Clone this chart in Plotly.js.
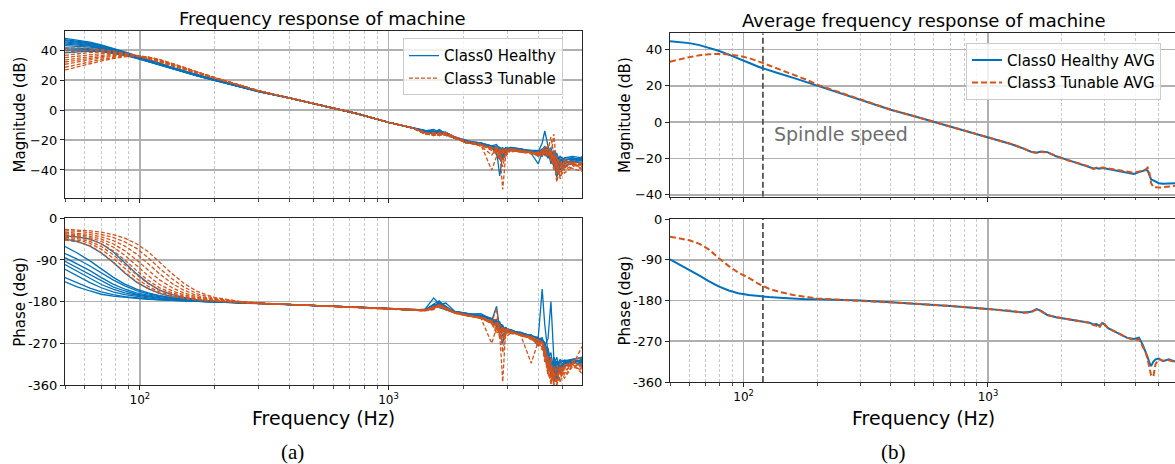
<!DOCTYPE html>
<html>
<head>
<meta charset="utf-8">
<script src="https://cdn.plot.ly/plotly-3.0.1.min.js"></script>
<style>
html,body{margin:0;padding:0;background:#fff;}
#chart{width:1175px;height:464px;}
</style>
</head>
<body>
<div id="chart"></div>
<script>
// ---------------- DATA ----------------
// Left panels (individual measurements), frequency grid in three pieces
const fLow  = [50, 56, 63, 70, 78, 87, 97, 108, 120, 135, 150, 170, 200, 250, 300];
const fMid  = [400, 550, 750, 1000, 1250];
const fHigh = [1400, 1520, 1600, 1700, 1850, 2050, 2350, 2600, 2720, 2800, 2880, 2960, 3100, 3400, 3750, 4000, 4150, 4250, 4380, 4500, 4620, 4750, 4900, 5100, 5500, 6000];

const magMidShared   = [8.0, 2.5, -2.5, -8.2, -12.0];
const phaseMidShared = [-186, -189, -192, -195, -198];

// Class0 Healthy: magnitude (dB)
const healthyMagLow = [
  [47.8, 46.8, 45.3, 43.5, 41.3, 38.8, 36.2, 33.6, 31.0, 28.4, 26.2, 23.6, 20.5, 16.4, 12.8],
  [47.0, 46.1, 44.7, 42.9, 40.8, 38.4, 35.9, 33.3, 30.8, 28.2, 26.0, 23.4, 20.3, 16.2, 12.7],
  [46.3, 45.5, 44.2, 42.5, 40.4, 38.1, 35.6, 33.1, 30.6, 28.0, 25.8, 23.2, 20.1, 16.1, 12.6],
  [45.5, 44.8, 43.6, 42.0, 40.0, 37.8, 35.4, 32.9, 30.4, 27.9, 25.7, 23.1, 20.0, 16.0, 12.5],
  [44.8, 44.2, 43.1, 41.6, 39.7, 37.5, 35.2, 32.8, 30.3, 27.8, 25.6, 23.0, 19.9, 15.9, 12.4],
  [44.0, 43.5, 42.6, 41.2, 39.4, 37.3, 35.1, 32.7, 30.2, 27.7, 25.5, 22.9, 19.9, 15.9, 12.4],
  [43.0, 42.7, 42.0, 40.8, 39.1, 37.1, 34.9, 32.6, 30.1, 27.6, 25.4, 22.9, 19.8, 15.8, 12.3],
  [41.5, 41.5, 41.0, 40.1, 38.7, 36.8, 34.7, 32.4, 30.0, 27.5, 25.3, 22.8, 19.8, 15.8, 12.3],
  [40.0, 40.3, 40.2, 39.5, 38.3, 36.6, 34.6, 32.3, 29.9, 27.4, 25.3, 22.8, 19.7, 15.7, 12.3],
  [38.2, 38.9, 39.3, 39.0, 38.0, 36.5, 34.5, 32.2, 29.8, 27.4, 25.2, 22.7, 19.7, 15.7, 12.2]
];
const healthyMagHigh = [
  [-14, -13, -15, -16, -18, -21, -23, -25, -27, -44, -30, -26, -25, -26, -27, -28, -22, -14, -24, -30, -28, -38, -34, -32, -31, -32],
  [-14, -15, -13, -16, -18, -21, -23, -24, -26, -28, -27, -25, -26, -27, -28, -29, -27, -26, -28, -25, -35, -42, -33, -34, -32, -33],
  [-15, -16, -14, -15, -19, -21, -22, -24, -23, -27, -31, -27, -26, -27, -28, -30, -29, -27, -30, -33, -27, -31, -40, -36, -33, -34],
  [-14, -14, -16, -15, -18, -22, -23, -25, -28, -26, -25, -28, -27, -26, -29, -36, -28, -25, -27, -36, -31, -29, -35, -38, -34, -35],
  [-15, -15, -14, -17, -18, -21, -23, -24, -30, -33, -26, -27, -26, -28, -28, -28, -26, -29, -32, -29, -38, -33, -31, -34, -35, -31],
  [-14, -16, -15, -15, -19, -21, -22, -25, -24, -25, -28, -26, -27, -27, -27, -27, -30, -28, -25, -30, -34, -45, -36, -33, -33, -33],
  [-15, -14, -16, -16, -18, -20, -23, -24, -26, -29, -33, -28, -25, -26, -28, -31, -27, -24, -29, -27, -30, -36, -33, -35, -34, -36],
  [-14, -15, -15, -16, -19, -21, -23, -26, -27, -25, -27, -29, -26, -27, -27, -29, -28, -30, -27, -31, -29, -33, -38, -32, -32, -34],
  [-15, -15, -14, -16, -18, -21, -22, -24, -26, -27, -26, -26, -27, -26, -28, -30, -31, -26, -28, -34, -36, -32, -34, -37, -36, -32],
  [-14, -16, -15, -15, -18, -22, -23, -25, -25, -30, -28, -27, -26, -27, -28, -28, -27, -28, -31, -28, -33, -40, -31, -33, -33, -33]
];
// Class0 Healthy: phase (deg)
const healthyPhaseLow = [
  [-38, -40, -45, -55, -72, -95, -120, -140, -155, -165, -171, -176, -179, -182, -184],
  [-45, -50, -60, -75, -95, -118, -138, -152, -162, -169, -173, -177, -180, -182, -184],
  [-61, -75, -92, -110, -127, -142, -153, -161, -167, -172, -175, -178, -180, -182, -184],
  [-76, -88, -103, -118, -133, -146, -156, -163, -168, -172, -175, -178, -180, -182, -184],
  [-85, -98, -113, -128, -142, -153, -161, -166, -170, -173, -176, -178, -180, -182, -184],
  [-93, -107, -122, -136, -148, -157, -164, -168, -172, -175, -177, -179, -180, -182, -184],
  [-100, -115, -130, -143, -153, -161, -166, -170, -173, -175, -177, -179, -181, -182, -184],
  [-110, -125, -139, -150, -159, -165, -169, -172, -175, -177, -178, -179, -181, -182, -184],
  [-128, -140, -151, -159, -165, -169, -172, -174, -176, -177, -178, -179, -181, -182, -184],
  [-137, -148, -157, -164, -168, -171, -173, -175, -176, -177, -178, -180, -181, -182, -184]
];
const healthyPhaseHigh = [
  [-197, -172, -185, -196, -204, -207, -206, -218, -228, -233, -236, -240, -243, -248, -253, -258, -153, -230, -290, -310, -330, -350, -320, -310, -305, -300],
  [-198, -185, -178, -194, -202, -206, -212, -221, -190, -240, -245, -237, -241, -249, -254, -262, -258, -275, -260, -180, -300, -340, -330, -315, -310, -308],
  [-199, -192, -180, -190, -203, -208, -213, -219, -226, -250, -270, -236, -244, -246, -255, -257, -265, -290, -320, -300, -345, -325, -310, -318, -312, -315],
  [-198, -194, -186, -183, -201, -205, -210, -217, -222, -228, -231, -248, -240, -250, -252, -268, -261, -285, -300, -335, -315, -300, -330, -308, -304, -302],
  [-197, -188, -193, -197, -204, -207, -212, -220, -234, -226, -238, -244, -246, -252, -258, -275, -263, -268, -310, -325, -355, -318, -305, -312, -309, -320],
  [-199, -196, -182, -195, -202, -206, -211, -218, -224, -237, -233, -241, -242, -249, -256, -260, -270, -300, -280, -315, -310, -335, -312, -306, -311, -306],
  [-198, -190, -187, -192, -203, -208, -209, -216, -226, -231, -255, -239, -243, -251, -254, -264, -262, -278, -295, -340, -300, -320, -336, -314, -307, -310],
  [-197, -193, -184, -196, -201, -205, -213, -219, -228, -235, -240, -236, -245, -247, -255, -259, -268, -282, -305, -290, -330, -312, -318, -320, -313, -304],
  [-199, -186, -189, -193, -204, -207, -210, -222, -220, -229, -236, -243, -241, -250, -257, -263, -266, -272, -285, -318, -322, -345, -308, -310, -308, -312],
  [-198, -191, -181, -197, -202, -206, -212, -218, -231, -224, -242, -238, -244, -248, -253, -270, -260, -288, -298, -305, -338, -308, -322, -312, -306, -309]
];

// Class3 Tunable: magnitude (dB)
const tunableMagLow = [
  [41.1, 41.4, 41.2, 40.5, 39.3, 37.8, 36.0, 34.0, 31.9, 29.5, 27.3, 24.5, 21.0, 16.6, 12.8],
  [38.5, 39.3, 39.8, 39.7, 39.1, 37.9, 36.3, 34.3, 32.1, 29.6, 27.4, 24.6, 21.0, 16.6, 12.8],
  [36.5, 37.5, 38.3, 38.7, 38.5, 37.7, 36.4, 34.6, 32.4, 29.9, 27.6, 24.7, 21.1, 16.6, 12.8],
  [35.0, 36.0, 37.0, 37.6, 37.8, 37.4, 36.4, 34.8, 32.7, 30.1, 27.8, 24.9, 21.2, 16.7, 12.8],
  [33.5, 34.6, 35.7, 36.5, 37.0, 37.0, 36.3, 35.0, 33.0, 30.4, 28.0, 25.0, 21.3, 16.7, 12.8],
  [32.0, 33.3, 34.6, 35.6, 36.4, 36.7, 36.3, 35.1, 33.2, 30.6, 28.2, 25.1, 21.3, 16.7, 12.8],
  [30.5, 32.0, 33.5, 34.8, 35.8, 36.4, 36.2, 35.2, 33.4, 30.8, 28.3, 25.2, 21.4, 16.8, 12.8],
  [28.5, 30.3, 32.1, 33.7, 35.0, 35.9, 36.0, 35.3, 33.6, 31.0, 28.5, 25.3, 21.4, 16.8, 12.8],
  [26.7, 28.8, 30.8, 32.7, 34.3, 35.5, 35.8, 35.3, 33.7, 31.1, 28.6, 25.4, 21.5, 16.8, 12.8]
];
const tunableMagHigh = [
  [-15, -17, -16, -15, -18, -21, -24, -30, -26, -28, -53, -30, -26, -27, -28, -29, -27, -25, -27, -18, -30, -42, -36, -33, -35, -40],
  [-16, -15, -17, -16, -19, -21, -23, -40, -31, -27, -29, -26, -27, -28, -28, -29, -28, -27, -30, -31, -16, -38, -44, -34, -36, -38],
  [-15, -16, -15, -17, -18, -22, -23, -26, -27, -33, -28, -27, -26, -27, -29, -30, -27, -29, -27, -33, -35, -30, -46, -38, -35, -37],
  [-16, -17, -16, -15, -19, -21, -24, -25, -25, -28, -34, -29, -27, -28, -28, -31, -29, -26, -24, -30, -40, -35, -33, -40, -37, -36],
  [-15, -16, -17, -16, -18, -22, -23, -27, -29, -26, -27, -31, -26, -27, -29, -28, -30, -28, -31, -28, -33, -48, -38, -35, -36, -39],
  [-16, -15, -16, -17, -19, -21, -23, -25, -27, -30, -26, -27, -28, -27, -28, -29, -28, -31, -28, -34, -31, -36, -41, -39, -34, -37],
  [-15, -17, -15, -16, -18, -21, -24, -26, -28, -29, -38, -28, -27, -28, -29, -30, -27, -27, -29, -27, -37, -34, -36, -42, -38, -35],
  [-16, -16, -17, -16, -19, -22, -23, -25, -26, -27, -28, -30, -27, -27, -28, -29, -31, -27, -26, -32, -29, -40, -35, -37, -39, -41],
  [-15, -16, -16, -15, -18, -21, -23, -26, -30, -31, -27, -28, -26, -28, -28, -30, -28, -29, -30, -29, -34, -37, -45, -36, -36, -38]
];
// Class3 Tunable: phase (deg)
const tunablePhaseLow = [
  [-24, -25, -27, -30, -35, -43, -55, -72, -95, -120, -140, -158, -171, -179, -183],
  [-27, -28, -31, -35, -41, -51, -65, -85, -108, -131, -148, -163, -173, -180, -183],
  [-30, -32, -35, -40, -48, -60, -77, -98, -120, -141, -155, -167, -175, -180, -183],
  [-33, -35, -39, -45, -55, -70, -90, -112, -133, -150, -161, -170, -176, -181, -184],
  [-36, -38, -42, -50, -62, -80, -102, -124, -143, -157, -165, -172, -177, -181, -184],
  [-38, -41, -46, -55, -70, -90, -113, -134, -150, -161, -168, -174, -178, -181, -184],
  [-41, -44, -50, -61, -78, -100, -122, -141, -155, -164, -170, -175, -178, -181, -184],
  [-44, -47, -54, -67, -86, -109, -130, -147, -159, -167, -172, -176, -179, -181, -184],
  [-47, -51, -59, -74, -94, -117, -137, -152, -162, -169, -173, -177, -179, -182, -184]
];
const tunablePhaseHigh = [
  [-199, -194, -188, -194, -204, -209, -215, -270, -236, -250, -353, -240, -246, -250, -256, -262, -268, -280, -300, -330, -360, -340, -320, -330, -315, -335],
  [-200, -190, -190, -197, -203, -208, -214, -222, -240, -230, -246, -252, -244, -252, -313, -266, -272, -290, -315, -345, -325, -360, -330, -318, -310, -320],
  [-198, -196, -185, -196, -205, -210, -216, -225, -195, -262, -238, -244, -248, -251, -258, -275, -264, -300, -330, -310, -350, -318, -340, -325, -308, -300],
  [-199, -192, -192, -193, -204, -209, -213, -221, -218, -245, -260, -236, -245, -253, -257, -268, -285, -275, -320, -350, -335, -355, -312, -340, -318, -277],
  [-200, -197, -187, -195, -203, -208, -215, -228, -246, -237, -240, -258, -247, -250, -262, -265, -270, -310, -295, -360, -320, -330, -350, -315, -322, -325],
  [-198, -193, -191, -197, -205, -210, -216, -223, -232, -255, -243, -240, -243, -254, -259, -272, -275, -295, -340, -320, -358, -345, -325, -335, -312, -318],
  [-199, -195, -186, -194, -204, -209, -214, -226, -238, -228, -290, -247, -249, -252, -256, -263, -280, -285, -310, -335, -345, -325, -355, -320, -316, -330],
  [-200, -191, -189, -196, -203, -208, -215, -224, -250, -241, -236, -250, -246, -251, -260, -270, -266, -305, -325, -300, -360, -340, -330, -345, -320, -314],
  [-198, -194, -190, -195, -205, -210, -216, -227, -226, -248, -265, -243, -244, -253, -258, -267, -277, -290, -335, -352, -330, -360, -338, -322, -317, -322]
];

// Right panels (averages)
const freqAvg = [50, 55, 60, 66, 72, 79, 87, 95, 105, 115, 127, 140, 160, 180, 200, 250, 300, 400, 500, 700, 1000, 1250, 1400, 1500, 1580, 1650, 1750, 1900, 2100, 2400, 2600, 2700, 2780, 2850, 2950, 3100, 3400, 3700, 3950, 4150, 4300, 4420, 4500, 4580, 4650, 4750, 4850, 5000, 5200, 5500, 5850];
const healthyAvgMag = [44.5, 44.0, 43.4, 42.3, 40.9, 39.2, 37.1, 35.2, 32.6, 30.4, 28.4, 26.7, 24.3, 22.1, 20.0, 15.8, 12.5, 6.8, 3.2, -2.5, -8.4, -12.2, -14.6, -16.3, -16.8, -16.2, -16.5, -18.8, -20.6, -23.2, -24.8, -25.5, -25.2, -25.6, -25.2, -25.8, -27.0, -28.0, -28.5, -27.5, -26.8, -26.4, -26.6, -29.5, -31.5, -32.0, -32.8, -33.6, -33.9, -33.8, -33.6];
const tunableAvgMag = [33.2, 34.6, 35.7, 36.7, 37.3, 37.5, 37.2, 36.5, 35.2, 33.4, 31.2, 29.2, 26.3, 23.4, 20.6, 16.1, 12.5, 6.8, 3.2, -2.4, -8.3, -12.1, -14.5, -16.4, -16.9, -16.4, -16.7, -18.6, -20.8, -23.0, -24.5, -25.8, -25.0, -25.3, -25.0, -25.5, -26.5, -27.5, -27.8, -27.2, -26.9, -26.0, -25.0, -28.0, -33.5, -35.8, -36.0, -36.0, -35.8, -35.3, -35.0];
const healthyAvgPhase = [-89, -101, -112, -125, -137, -149, -158, -164, -168, -170.5, -172.5, -174, -176, -177, -177.5, -179, -180, -184, -187, -192, -198.5, -203, -206.5, -205, -199, -203, -212, -217, -220.5, -225, -229, -233, -232, -236, -230, -241, -252, -262, -265, -262, -278, -292, -305, -318, -325, -315, -310, -308, -314, -310, -315];
const tunableAvgPhase = [-39, -43, -47, -55, -67, -86, -104, -118, -130, -143, -154, -161, -168, -172, -175.5, -178.5, -180.5, -184, -187, -192, -198.5, -203, -207, -206, -200, -204, -212, -217, -221, -226, -229, -234, -236, -241, -227, -241, -252, -262, -267, -266, -282, -295, -310, -330, -345, -348, -320, -310, -313, -312, -316];

const spindleSpeedHz = 120;

// axis tick labels
const freqTickVals = [100, 1000];
const freqTickText = ['10<sup>2</sup>', '10<sup>3</sup>'];
const freqMinorVals = [50, 60, 70, 80, 90, 200, 300, 400, 500, 600, 700, 800, 900, 2000, 3000, 4000, 5000];
const magTickVals = [-40, -20, 0, 20, 40];
const phaseTickVals = [0, -90, -180, -270, -360];
const phaseTickText = ['0', '-90', '-180', '-270', '-360'];

// ---------------- STYLE ----------------
const BLUE = '#0072BD';
const ORANGE = '#D95319';
const FONT = 'DejaVu Sans, Verdana, sans-serif';
const GRID = '#b0b0b0';
const MINORGRID = '#c4c4c4';
const SPINE = '#262626';

const freqLeft = fLow.concat(fMid, fHigh);
const traces = [];

healthyMagLow.forEach((lo, i) => {
  traces.push({x: freqLeft, y: lo.concat(magMidShared, healthyMagHigh[i]), xaxis: 'x', yaxis: 'y',
    mode: 'lines', line: {color: BLUE, width: 1.3}, name: 'Class0 Healthy', legend: 'legend',
    showlegend: i === 0, hoverinfo: 'skip'});
});
tunableMagLow.forEach((lo, i) => {
  traces.push({x: freqLeft, y: lo.concat(magMidShared, tunableMagHigh[i]), xaxis: 'x', yaxis: 'y',
    mode: 'lines', line: {color: ORANGE, width: 1.3, dash: '4px,2px'}, name: 'Class3 Tunable', legend: 'legend',
    showlegend: i === 0, hoverinfo: 'skip'});
});
healthyPhaseLow.forEach((lo, i) => {
  traces.push({x: freqLeft, y: lo.concat(phaseMidShared, healthyPhaseHigh[i]), xaxis: 'x2', yaxis: 'y2',
    mode: 'lines', line: {color: BLUE, width: 1.3}, showlegend: false, hoverinfo: 'skip'});
});
tunablePhaseLow.forEach((lo, i) => {
  traces.push({x: freqLeft, y: lo.concat(phaseMidShared, tunablePhaseHigh[i]), xaxis: 'x2', yaxis: 'y2',
    mode: 'lines', line: {color: ORANGE, width: 1.3, dash: '4px,2px'}, showlegend: false, hoverinfo: 'skip'});
});

const magRangeL = [-58.7, 52.9];
const magRangeR = [-41, 48.8];
const phaseRange = [-360, 0];

// spindle speed markers (right panels)
traces.push({x: [spindleSpeedHz, spindleSpeedHz], y: magRangeR, xaxis: 'x3', yaxis: 'y3', mode: 'lines',
  line: {color: '#555555', width: 1.8, dash: '6px,3px'}, showlegend: false, hoverinfo: 'skip'});
traces.push({x: [spindleSpeedHz, spindleSpeedHz], y: phaseRange, xaxis: 'x4', yaxis: 'y4', mode: 'lines',
  line: {color: '#555555', width: 1.8, dash: '6px,3px'}, showlegend: false, hoverinfo: 'skip'});

traces.push({x: freqAvg, y: healthyAvgMag, xaxis: 'x3', yaxis: 'y3', mode: 'lines',
  line: {color: BLUE, width: 2}, name: 'Class0 Healthy AVG', legend: 'legend2', hoverinfo: 'skip'});
traces.push({x: freqAvg, y: tunableAvgMag, xaxis: 'x3', yaxis: 'y3', mode: 'lines',
  line: {color: ORANGE, width: 2, dash: '6px,3px'}, name: 'Class3 Tunable AVG', legend: 'legend2', hoverinfo: 'skip'});
traces.push({x: freqAvg, y: healthyAvgPhase, xaxis: 'x4', yaxis: 'y4', mode: 'lines',
  line: {color: BLUE, width: 2}, showlegend: false, hoverinfo: 'skip'});
traces.push({x: freqAvg, y: tunableAvgPhase, xaxis: 'x4', yaxis: 'y4', mode: 'lines',
  line: {color: ORANGE, width: 2, dash: '6px,3px'}, showlegend: false, hoverinfo: 'skip'});

const W = 1175, H = 464;
const px = v => v / W;
const py = v => 1 - v / H;

function xAxis(domain, range, anchor, labels, mirror) {
  return {
    type: 'log', domain: domain, range: range, anchor: anchor,
    tickmode: 'array', tickvals: freqTickVals, ticktext: freqTickText,
    showticklabels: labels, tickfont: {family: FONT, size: 12, color: '#000'},
    ticks: 'outside', ticklen: 4, tickwidth: 1, tickcolor: SPINE,
    showgrid: true, gridcolor: GRID, gridwidth: 1.6,
    minor: {tickmode: 'array', tickvals: freqMinorVals, ticks: 'outside', ticklen: 2.5, tickwidth: 0.8, tickcolor: SPINE,
      showgrid: true, gridcolor: MINORGRID, gridwidth: 0.9, griddash: '3px,2px'},
    showline: true, linecolor: SPINE, linewidth: 1, mirror: mirror, zeroline: false, fixedrange: true
  };
}
function yAxis(domain, range, anchor, vals, text, mirror) {
  const a = {
    domain: domain, range: range, anchor: anchor,
    tickmode: 'array', tickvals: vals,
    tickfont: {family: FONT, size: 13, color: '#000'},
    ticks: 'outside', ticklen: 4, tickwidth: 1, tickcolor: SPINE,
    showgrid: true, gridcolor: GRID, gridwidth: 1.6,
    showline: true, linecolor: SPINE, linewidth: 1, mirror: mirror, zeroline: false, fixedrange: true
  };
  if (text) a.ticktext = text;
  return a;
}

const leftX = [px(65), px(582)];
const rightX = [px(670), 1];
const rangeL = [Math.log10(50), Math.log10(6000)];
const rangeR = [Math.log10(50), Math.log10(50) + 505 / 244.4];

const ann = (x, y, text, size, extra) => Object.assign({xref: 'paper', yref: 'paper', x: x, y: y, text: text,
  showarrow: false, font: {family: FONT, size: size, color: '#000'}, xanchor: 'center', yanchor: 'middle'}, extra || {});

const legendStyle = {bgcolor: 'rgba(255,255,255,0.8)', bordercolor: '#cccccc', borderwidth: 1,
  font: {family: FONT, size: 15, color: '#000'}, xanchor: 'left', yanchor: 'top', tracegroupgap: 0};

const layout = {
  width: W, height: H,
  margin: {l: 0, r: 0, t: 0, b: 0},
  paper_bgcolor: '#fff', plot_bgcolor: '#fff',
  showlegend: true,
  legend: Object.assign({x: px(403), y: py(38.3)}, legendStyle),
  legend2: Object.assign({x: px(966), y: py(42.7)}, legendStyle),
  xaxis:  xAxis(leftX, rangeL, 'y', false, true),
  yaxis:  yAxis([py(198), py(30.7)], magRangeL, 'x', magTickVals, null, true),
  xaxis2: xAxis(leftX, rangeL, 'y2', true, true),
  yaxis2: yAxis([py(385), py(218.3)], phaseRange, 'x2', phaseTickVals, phaseTickText, true),
  xaxis3: xAxis(rightX, rangeR, 'y3', false, true),
  yaxis3: yAxis([py(196.7), py(33.3)], magRangeR, 'x3', magTickVals, null, false),
  xaxis4: xAxis(rightX, rangeR, 'y4', true, true),
  yaxis4: yAxis([py(382), py(219)], phaseRange, 'x4', phaseTickVals, phaseTickText, false),
  annotations: [
    ann(px(323), py(18), 'Frequency response of machine', 18),
    ann(px(924), py(20), 'Average frequency response of machine', 18),
    ann(px(20), py(114.4), 'Magnitude (dB)', 15, {textangle: -90}),
    ann(px(20), py(301.7), 'Phase (deg)', 15, {textangle: -90}),
    ann(px(625), py(115), 'Magnitude (dB)', 15, {textangle: -90}),
    ann(px(624), py(300.5), 'Phase (deg)', 15, {textangle: -90}),
    ann(px(323.5), py(418), 'Frequency (Hz)', 19),
    ann(px(923), py(418), 'Frequency (Hz)', 19),
    ann(px(292.5), py(452), '(a)', 21, {font: {family: 'Liberation Serif, Times New Roman, serif', size: 21, color: '#000'}}),
    ann(px(893.3), py(452), '(b)', 21, {font: {family: 'Liberation Serif, Times New Roman, serif', size: 21, color: '#000'}}),
    ann(px(772), py(134), 'Spindle speed', 19, {xanchor: 'left', font: {family: FONT, size: 19, color: '#6e6e6e'}})
  ]
};

Plotly.newPlot('chart', traces, layout, {staticPlot: true, displayModeBar: false});
</script>
</body>
</html>
